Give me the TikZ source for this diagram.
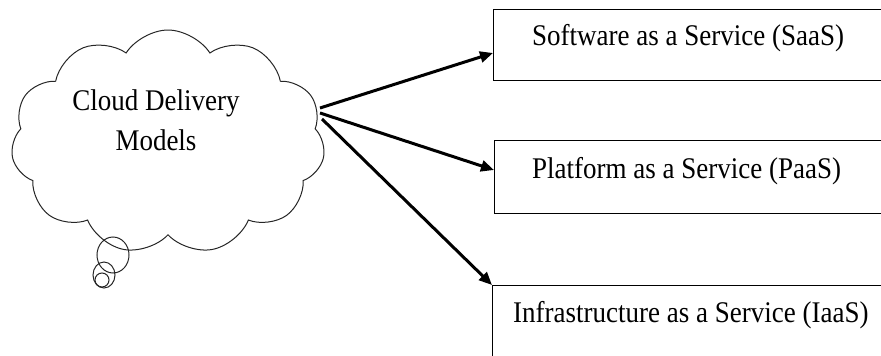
\documentclass[tikz,border=0pt]{standalone}
\usepackage{fontspec}
\setmainfont{Liberation Serif}[FakeStretch=0.9]
\usetikzlibrary{arrows.meta,shapes.symbols}
\tikzset{
  boxshape/.style={draw=black, line width=1.4pt, rectangle, inner sep=0pt},
  lbl/.style={anchor=base west, inner sep=0pt, font=\fontsize{30}{34}\selectfont},
  conn/.style={line width=3pt, -{Triangle[length=13pt,width=11pt]}},
  cloudshape/.style={draw=black!85, line width=1pt, cloud, cloud puffs=11, cloud puff arc=115, aspect=1.4, inner sep=0pt},
}
\begin{document}
\begin{tikzpicture}[x=1pt,y=-1pt]
\useasboundingbox (0,0) rectangle (881,356);
\clip (0,0) rectangle (881,356);
% cloud
\node[cloudshape, minimum width=314pt, minimum height=224pt] (cloud) at (168,142) {};
\node[font=\fontsize{30}{40}\selectfont, align=center, inner sep=0pt] (ctext) at (156,120) {Cloud Delivery\\Models};
\draw[black!85, line width=1pt] (113,255) ellipse [x radius=16, y radius=18];
\draw[black!85, line width=1pt] (104,275) ellipse [x radius=11, y radius=13];
\draw[black!85, line width=1pt] (102,280) ellipse [x radius=7, y radius=7];
% boxes
\node[boxshape, anchor=north west, minimum width=420pt, minimum height=71pt] (saas) at (493,9) {};
\node[boxshape, anchor=north west, minimum width=420pt, minimum height=73pt] (paas) at (494,140) {};
\node[boxshape, anchor=north west, minimum width=420pt, minimum height=90pt] (iaas) at (492,285) {};
\node[lbl] (t1) at (532,45) {Software as a Service (SaaS)};
\node[lbl] (t2) at (532,178) {Platform as a Service (PaaS)};
\node[lbl] (t3) at (513,322) {Infrastructure as a Service (IaaS)};
% connectors
\coordinate (o1) at (320,108);
\coordinate (o2) at (320,113);
\coordinate (o3) at (322,119);
\draw[conn] (o1) -- (saas.west |- 0,53);
\draw[conn] (o2) -- (paas.west |- 0,170);
\draw[conn] (o3) -- (iaas.north west);
\end{tikzpicture}
\end{document}
